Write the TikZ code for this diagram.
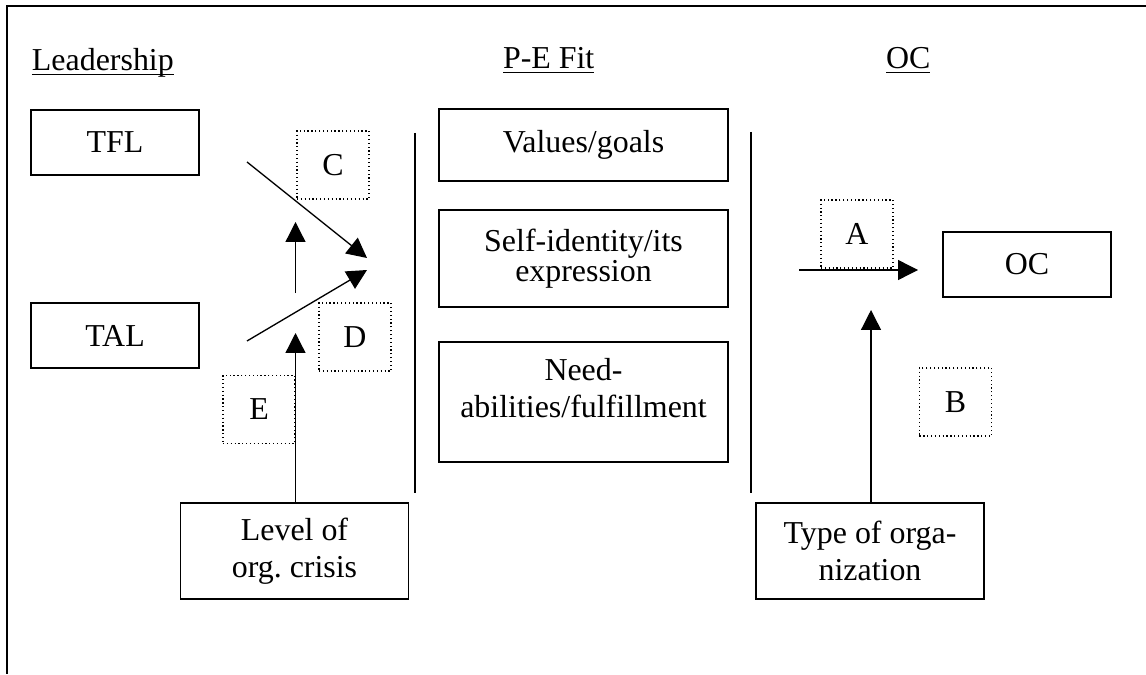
\documentclass[tikz,border=0pt]{standalone}
\usepackage{fontspec}
\setmainfont{Liberation Serif}
\usetikzlibrary{arrows.meta}
\frenchspacing

\begin{document}
\begin{tikzpicture}[x=0.376pt, y=-0.376pt,
    every node/.style={font=\fontsize{12}{13.8}\selectfont, inner sep=0pt, outer sep=0pt},
    box/.style={draw, line width=0.7pt, align=center},
    dotbox/.style={draw, densely dotted, line width=0.45pt, minimum width=27.1pt, minimum height=25.6pt},
    head/.style={anchor=base west},
    arr/.style={-{Triangle[length=7.5pt, width=7.5pt]}, line width=0.5pt}
]
    \useasboundingbox (0,0) rectangle (1146,674);

    % Frame
    \draw[line width=0.75pt] (1146,6) -- (7,6) -- (7,674);

    % Headings
    \node[head] (lead) at (32,71) {\underline{\smash{Leadership}}};
    \node[head] (pefit) at (503,69) {\underline{\smash{P-E Fit}}};
    \node[head] (ochead) at (886,69) {\underline{\smash{OC}}};

    % Leadership styles
    \node[box, minimum width=63.2pt, minimum height=24.4pt] (tfl) at (115,142.5) {TFL};
    \node[box, minimum width=63.2pt, minimum height=24.4pt] (tal) at (115,335.5) {TAL};

    % P-E Fit dimensions
    \node[box, minimum width=108.7pt, minimum height=27.1pt] (values) at (583.5,145) {Values/goals};
    \node[box, minimum width=108.7pt, minimum height=36.5pt, font=\fontsize{12}{11.3}\selectfont] (self) at (583.5,258.5) {Self-identity/its\\expression};
    \node[box, minimum width=108.7pt, minimum height=45.1pt] (need) at (583.5,402) {Need-\\abilities/fulfillment\\[-3pt]\mbox{}};

    % Outcome and moderators
    \node[box, minimum width=63.2pt, minimum height=24.4pt] (oc) at (1027,264.5) {OC};
    \node[box, minimum width=85.7pt, minimum height=36.1pt] (crisis) at (294.5,551) {Level of\\org. crisis};
    \node[box, minimum width=85.7pt, minimum height=36.1pt] (orgtype) at (870,551) {Type of orga-\\nization};

    % Path labels
    \node[dotbox] (c) at (333,165) {C};
    \node[dotbox] (d) at (355,337) {D};
    \node[dotbox] (e) at (259,409.5) {E};
    \node[dotbox] (a) at (857,234) {A};
    \node[dotbox] (b) at (955.5,402) {B};

    % Separators
    \draw[line width=0.5pt] (415,133) -- (415,493);
    \draw[line width=0.5pt] (751,132) -- (751,493);

    % Arrow ends
    \coordinate (tfl-end) at (247,162);
    \coordinate (tfl-tip) at (367,258);
    \coordinate (tal-end) at (247,341);
    \coordinate (tal-tip) at (367,270);
    \coordinate (mod-end) at (295.5,293);
    \coordinate (mod-tip) at (295.5,222);
    \coordinate (crisis-tip) at (295.5,333);
    \coordinate (fit-end) at (799,270);
    \coordinate (fit-tip) at (918,270);
    \coordinate (type-tip) at (871,310);

    % Arrows
    \draw[arr] (tfl-end) -- (tfl-tip);
    \draw[arr] (tal-end) -- (tal-tip);
    \draw[arr] (mod-end) -- (mod-tip);
    \draw[arr] (crisis.north -| crisis-tip) -- (crisis-tip);
    \draw[arr] (fit-end) -- (fit-tip);
    \draw[arr] (orgtype.north -| type-tip) -- (type-tip);
\end{tikzpicture}
\end{document}
